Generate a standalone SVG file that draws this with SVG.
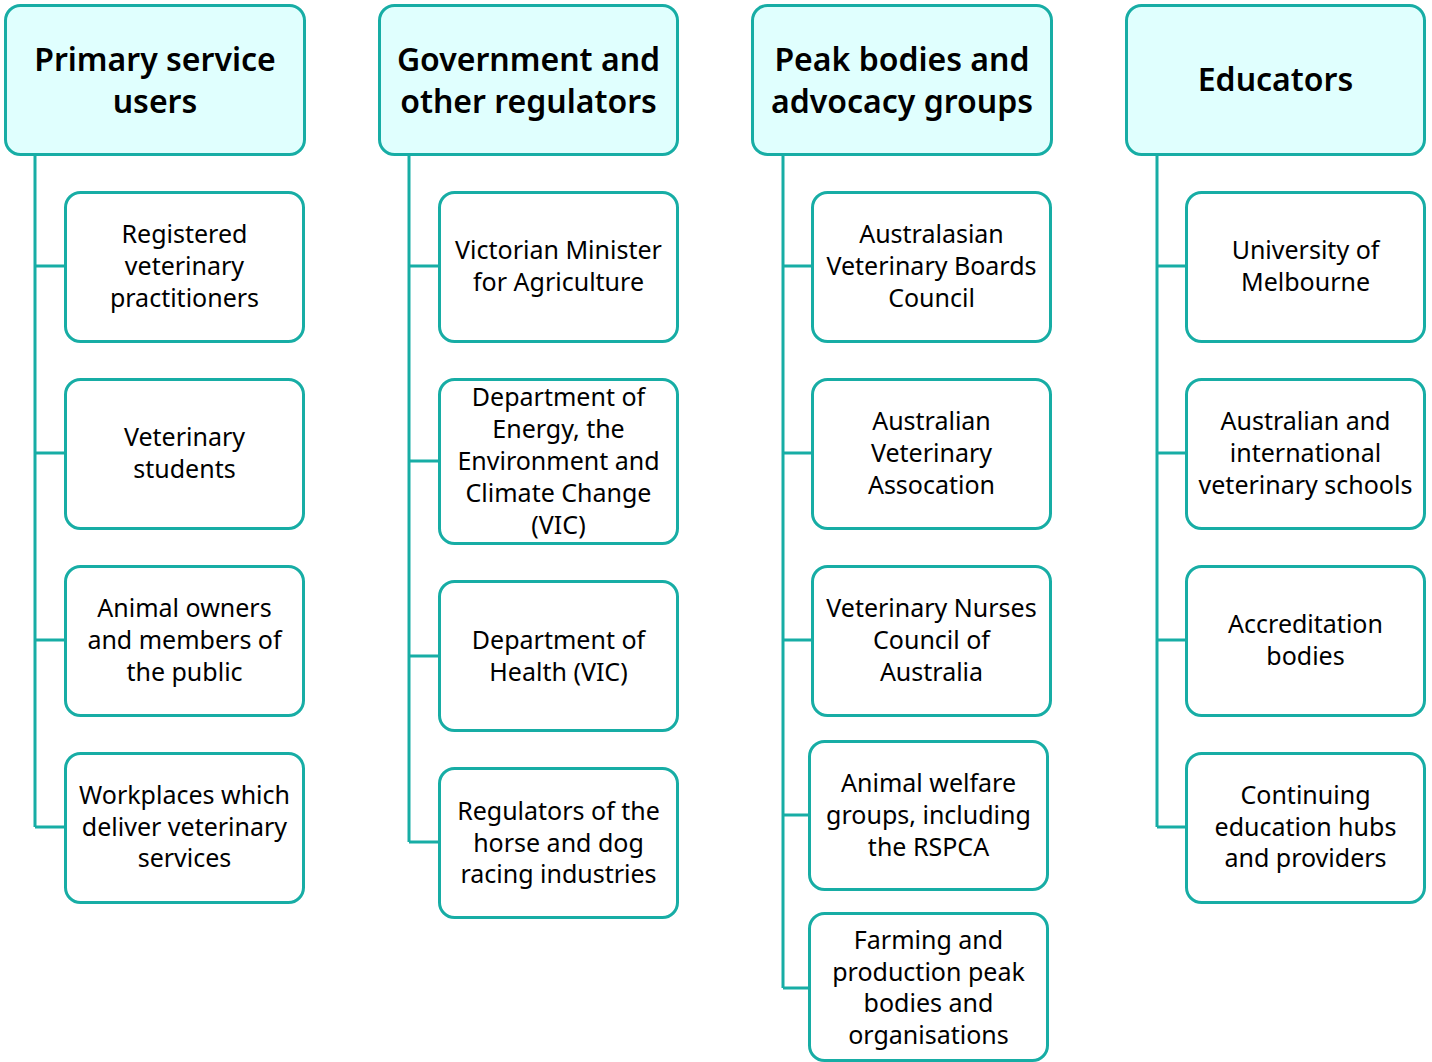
<svg xmlns="http://www.w3.org/2000/svg" width="1432" height="1062" viewBox="0 0 1432 1062">
  <style>
    .hdr rect { fill: #E0FFFE; stroke: #17ADA5; stroke-width: 3; }
    .box rect { fill: #FFFFFF; stroke: #17ADA5; stroke-width: 3; }
    .hdr text { font-family: "Noto Sans", "Open Sans", sans-serif; font-size: 32px; font-weight: 600; fill: #000; text-anchor: middle; dominant-baseline: central; }
    .box text { font-family: "Noto Sans", "Open Sans", sans-serif; font-size: 25px; fill: #000; text-anchor: middle; dominant-baseline: central; }
    .conn path { fill: none; stroke: #17ADA5; stroke-width: 3; }
  </style>

  <!-- connectors -->
  <g class="conn" id="connectors">
    <path d="M35 155 V827 M35 266 H65 M35 453 H65 M35 640 H65 M35 827 H65"/>
    <path d="M409 155 V842 M409 266 H439 M409 461 H439 M409 656 H439 M409 842 H439"/>
    <path d="M783 155 V988 M783 266 H812 M783 453 H812 M783 640 H812 M783 815 H809 M783 988 H809"/>
    <path d="M1157 155 V827 M1157 266 H1186 M1157 453 H1186 M1157 640 H1186 M1157 827 H1186"/>
  </g>

  <!-- column 1 -->
  <g class="hdr" id="primary-service-users">
    <rect x="5.5" y="5.5" width="299" height="149" rx="15"/>
    <text x="155" y="58">Primary service</text>
    <text x="155" y="100">users</text>
  </g>
  <g class="box" id="registered-vets">
    <rect x="65.5" y="192.5" width="238" height="149" rx="15"/>
    <text x="184.5" y="233">Registered</text>
    <text x="184.5" y="265">veterinary</text>
    <text x="184.5" y="297">practitioners</text>
  </g>
  <g class="box" id="vet-students">
    <rect x="65.5" y="379.5" width="238" height="149" rx="15"/>
    <text x="184.5" y="436">Veterinary</text>
    <text x="184.5" y="468">students</text>
  </g>
  <g class="box" id="animal-owners">
    <rect x="65.5" y="566.5" width="238" height="149" rx="15"/>
    <text x="184.5" y="607">Animal owners</text>
    <text x="184.5" y="639">and members of</text>
    <text x="184.5" y="671">the public</text>
  </g>
  <g class="box" id="workplaces">
    <rect x="65.5" y="753.5" width="238" height="149" rx="15"/>
    <text x="184.5" y="794">Workplaces which</text>
    <text x="184.5" y="826">deliver veterinary</text>
    <text x="184.5" y="857">services</text>
  </g>

  <!-- column 2 -->
  <g class="hdr" id="government-regulators">
    <rect x="379.5" y="5.5" width="298" height="149" rx="15"/>
    <text x="528.5" y="58">Government and</text>
    <text x="528.5" y="100">other regulators</text>
  </g>
  <g class="box" id="vic-minister">
    <rect x="439.5" y="192.5" width="238" height="149" rx="15"/>
    <text x="558.5" y="249">Victorian Minister</text>
    <text x="558.5" y="281">for Agriculture</text>
  </g>
  <g class="box" id="deeca">
    <rect x="439.5" y="379.5" width="238" height="164" rx="15"/>
    <text x="558.5" y="396">Department of</text>
    <text x="558.5" y="428">Energy, the</text>
    <text x="558.5" y="460">Environment and</text>
    <text x="558.5" y="492">Climate Change</text>
    <text x="558.5" y="524">(VIC)</text>
  </g>
  <g class="box" id="doh">
    <rect x="439.5" y="581.5" width="238" height="149" rx="15"/>
    <text x="558.5" y="639">Department of</text>
    <text x="558.5" y="671">Health (VIC)</text>
  </g>
  <g class="box" id="racing-regulators">
    <rect x="439.5" y="768.5" width="238" height="149" rx="15"/>
    <text x="558.5" y="810">Regulators of the</text>
    <text x="558.5" y="842">horse and dog</text>
    <text x="558.5" y="873">racing industries</text>
  </g>

  <!-- column 3 -->
  <g class="hdr" id="peak-bodies">
    <rect x="752.5" y="5.5" width="299" height="149" rx="15"/>
    <text x="902" y="58">Peak bodies and</text>
    <text x="902" y="100">advocacy groups</text>
  </g>
  <g class="box" id="avbc">
    <rect x="812.5" y="192.5" width="238" height="149" rx="15"/>
    <text x="931.5" y="233">Australasian</text>
    <text x="931.5" y="265">Veterinary Boards</text>
    <text x="931.5" y="297">Council</text>
  </g>
  <g class="box" id="ava">
    <rect x="812.5" y="379.5" width="238" height="149" rx="15"/>
    <text x="931.5" y="420">Australian</text>
    <text x="931.5" y="452">Veterinary</text>
    <text x="931.5" y="484">Assocation</text>
  </g>
  <g class="box" id="vnca">
    <rect x="812.5" y="566.5" width="238" height="149" rx="15"/>
    <text x="931.5" y="607">Veterinary Nurses</text>
    <text x="931.5" y="639">Council of</text>
    <text x="931.5" y="671">Australia</text>
  </g>
  <g class="box" id="animal-welfare">
    <rect x="809.5" y="741.5" width="238" height="148" rx="15"/>
    <text x="928.5" y="782">Animal welfare</text>
    <text x="928.5" y="814">groups, including</text>
    <text x="928.5" y="846">the RSPCA</text>
  </g>
  <g class="box" id="farming-bodies">
    <rect x="809.5" y="913.5" width="238" height="147" rx="15"/>
    <text x="928.5" y="939">Farming and</text>
    <text x="928.5" y="971">production peak</text>
    <text x="928.5" y="1002">bodies and</text>
    <text x="928.5" y="1034">organisations</text>
  </g>

  <!-- column 4 -->
  <g class="hdr" id="educators">
    <rect x="1126.5" y="5.5" width="298" height="149" rx="15"/>
    <text x="1275.5" y="78">Educators</text>
  </g>
  <g class="box" id="unimelb">
    <rect x="1186.5" y="192.5" width="238" height="149" rx="15"/>
    <text x="1305.5" y="249">University of</text>
    <text x="1305.5" y="281">Melbourne</text>
  </g>
  <g class="box" id="vet-schools">
    <rect x="1186.5" y="379.5" width="238" height="149" rx="15"/>
    <text x="1305.5" y="420">Australian and</text>
    <text x="1305.5" y="452">international</text>
    <text x="1305.5" y="484">veterinary schools</text>
  </g>
  <g class="box" id="accreditation">
    <rect x="1186.5" y="566.5" width="238" height="149" rx="15"/>
    <text x="1305.5" y="623">Accreditation</text>
    <text x="1305.5" y="655">bodies</text>
  </g>
  <g class="box" id="continuing-ed">
    <rect x="1186.5" y="753.5" width="238" height="149" rx="15"/>
    <text x="1305.5" y="794">Continuing</text>
    <text x="1305.5" y="826">education hubs</text>
    <text x="1305.5" y="857">and providers</text>
  </g>
</svg>
